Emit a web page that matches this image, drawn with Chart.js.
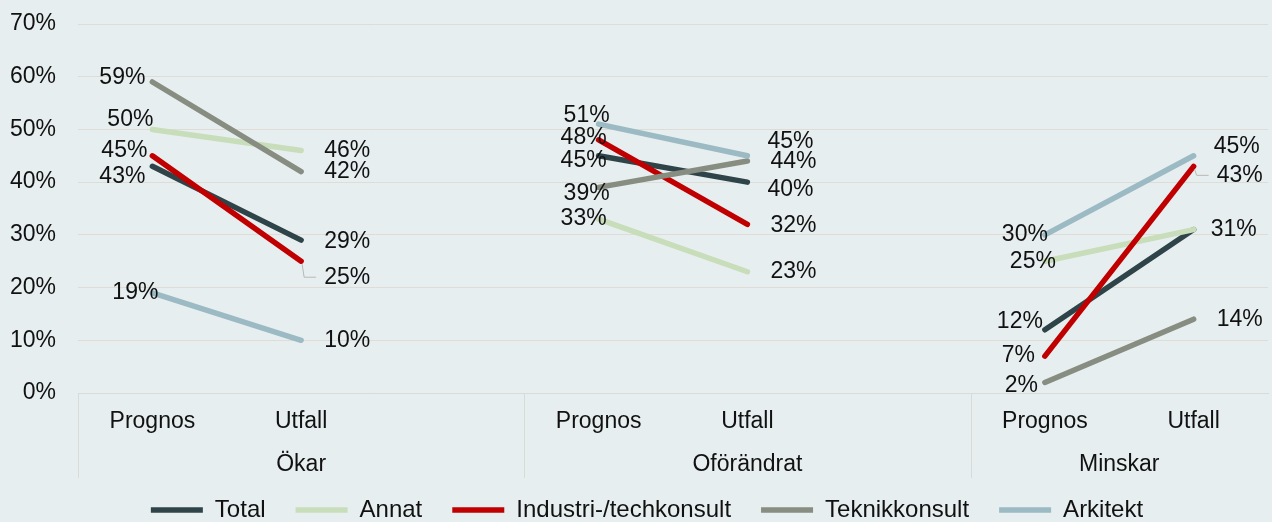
<!DOCTYPE html>
<html lang="sv">
<head>
    <meta charset="UTF-8">
    <title>Prognos och utfall</title>
    <style>
        html, body {
            margin: 0;
            padding: 0;
            background: #e7eef0;
        }

        #wrap {
            width: 1272px;
            height: 522px;
            position: relative;
        }
    </style>
</head>
<body>
    <div id="wrap"><canvas id="chart"></canvas></div>

    <script src="https://cdn.jsdelivr.net/npm/chart.js"></script>
    <script>
        // categories: Prognos/Utfall per group, an empty slot between the groups
        const categories = ['Prognos', 'Utfall', '', 'Prognos', 'Utfall', '', 'Prognos', 'Utfall'];
        const groups = ['Ökar', 'Oförändrat', 'Minskar'];
        const seriesNames = ['Total', 'Annat', 'Industri-/techkonsult', 'Teknikkonsult', 'Arkitekt'];

        const total    = [43, 29, null, 45, 40, null, 12, 31];
        const annat    = [50, 46, null, 33, 23, null, 25, 31];
        const industri = [45, 25, null, 48, 32, null, 7, 43];
        const teknik   = [59, 42, null, 39, 44, null, 2, 14];
        const arkitekt = [19, 10, null, 51, 45, null, 30, 45];

        const yMax = 70;
        const yStep = 10;

        const colors = ['#2f4449', '#c8ddb9', '#c00000', '#878d80', '#9bbac3'];
        const font = "'Liberation Sans', Arial, sans-serif";

        // manual label nudges [dx, dy, leader] like the hand placed labels in the original
        const nudges = {
            '0,0': [0, 10], '1,0': [8, -10], '2,0': [2, -5], '3,0': [0, -4], '4,0': [13, 0],
            '0,1': [0, 2], '2,1': [0, 16, true],
            '0,3': [15, 5], '1,3': [15, 0], '2,3': [15, -2], '3,3': [18, 6], '4,3': [18, -9],
            '0,4': [-3, 8], '2,4': [0, 1], '3,4': [0, 1], '4,4': [-3, -14],
            '0,6': [5, -8], '1,6': [18, 0], '2,6': [-3, 0], '3,6': [0, 3], '4,6': [10, 0],
            '1,7': [-6, 0], '2,7': [0, 9, true], '4,7': [-3, -9]
        };
        // Total and Annat share the same 31% label at Minskar/Utfall
        const hiddenLabels = ['0,7'];

        const bgPlugin = {
            id: 'bg',
            beforeDraw(chart) {
                const ctx = chart.ctx;
                ctx.save();
                ctx.fillStyle = '#e7eef0';
                ctx.fillRect(0, 0, chart.width, chart.height);
                ctx.restore();
            },
            // legend sits a bit right of centre in the original
            afterLayout(chart) {
                if (chart.legend) chart.legend.left += 26;
            }
        };

        // group labels under the category labels, with separator lines
        const groupPlugin = {
            id: 'groups',
            afterDraw(chart) {
                const ctx = chart.ctx;
                const x = chart.scales.x;
                const slot = x.getPixelForValue(1) - x.getPixelForValue(0);
                const top = chart.chartArea.bottom;
                ctx.save();
                ctx.strokeStyle = '#d8dbd6';
                ctx.lineWidth = 1;
                ctx.fillStyle = '#111';
                ctx.font = '23px ' + font;
                ctx.textAlign = 'center';
                ctx.textBaseline = 'alphabetic';
                groups.forEach((g, i) => {
                    const first = i * 3;
                    const last = Math.min(first + 2, categories.length - 1);
                    const left = x.getPixelForValue(first) - slot / 2;
                    const right = x.getPixelForValue(last) + slot / 2;
                    ctx.beginPath();
                    ctx.moveTo(Math.round(left) + 0.5, top);
                    ctx.lineTo(Math.round(left) + 0.5, top + 85);
                    ctx.stroke();
                    ctx.fillText(g, (left + right) / 2, top + 78);
                });
                ctx.restore();
            }
        };

        const labelPlugin = {
            id: 'pointLabels',
            afterDatasetsDraw(chart) {
                const ctx = chart.ctx;
                ctx.save();
                ctx.font = '23px ' + font;
                ctx.fillStyle = '#111';
                ctx.textBaseline = 'middle';
                chart.data.datasets.forEach((ds, di) => {
                    const meta = chart.getDatasetMeta(di);
                    meta.data.forEach((pt, i) => {
                        const v = ds.data[i];
                        const key = di + ',' + i;
                        if (v === null || hiddenLabels.includes(key)) return;
                        const n = nudges[key] || [0, 0];
                        const prognos = i % 3 === 0;
                        const lx = prognos ? pt.x - 7 + n[0] : pt.x + 23 + n[0];
                        const ly = pt.y + n[1];
                        ctx.textAlign = prognos ? 'right' : 'left';
                        ctx.fillText(Math.round(v) + '%', lx, ly);
                        if (n[2]) {
                            ctx.strokeStyle = '#b8b8b4';
                            ctx.lineWidth = 1;
                            ctx.beginPath();
                            ctx.moveTo(pt.x + 1, pt.y + 3);
                            ctx.lineTo(pt.x + 3, ly);
                            ctx.lineTo(lx - 8, ly);
                            ctx.stroke();
                        }
                    });
                });
                ctx.restore();
            }
        };

        const seriesData = [total, annat, industri, teknik, arkitekt];

        const datasets = seriesNames.map((name, i) => ({
            label: name,
            data: seriesData[i],
            borderColor: colors[i],
            backgroundColor: colors[i],
            borderWidth: 5.5,
            borderCapStyle: 'round',
            pointRadius: 0,
            pointHoverRadius: 0,
            tension: 0,
            spanGaps: false,
            order: -i
        }));

        new Chart(document.getElementById('chart'), {
            type: 'line',
            data: { labels: categories, datasets: datasets },
            plugins: [bgPlugin, groupPlugin, labelPlugin],
            options: {
                responsive: true,
                maintainAspectRatio: false,
                animation: false,
                layout: { padding: { top: 24, left: 0, right: 4, bottom: -10 } },
                scales: {
                    x: {
                        offset: true,
                        afterFit: scale => { scale.height = 75; },
                        grid: { display: false, drawTicks: false },
                        border: { display: true, color: '#d8dbd6', width: 1 },
                        ticks: {
                            autoSkip: false,
                            maxRotation: 0,
                            padding: 15,
                            color: '#111',
                            font: { family: font, size: 23 }
                        }
                    },
                    y: {
                        min: 0,
                        max: yMax,
                        afterFit: scale => {
                            scale.width = 78;
                            scale.paddingTop = 0;
                            scale.paddingBottom = 0;
                        },
                        grid: { color: '#dedcd4', drawTicks: false },
                        border: { display: false },
                        ticks: {
                            stepSize: yStep,
                            padding: 22,
                            color: '#111',
                            font: { family: font, size: 23 },
                            callback: v => v + '%'
                        }
                    }
                },
                plugins: {
                    tooltip: { enabled: false },
                    legend: {
                        position: 'bottom',
                        labels: {
                            sort: (a, b) => a.datasetIndex - b.datasetIndex,
                            usePointStyle: true,
                            pointStyle: 'line',
                            pointStyleWidth: 52,
                            padding: 30,
                            color: '#111',
                            font: { family: font, size: 24 }
                        }
                    }
                }
            }
        });
    </script>
</body>
</html>
